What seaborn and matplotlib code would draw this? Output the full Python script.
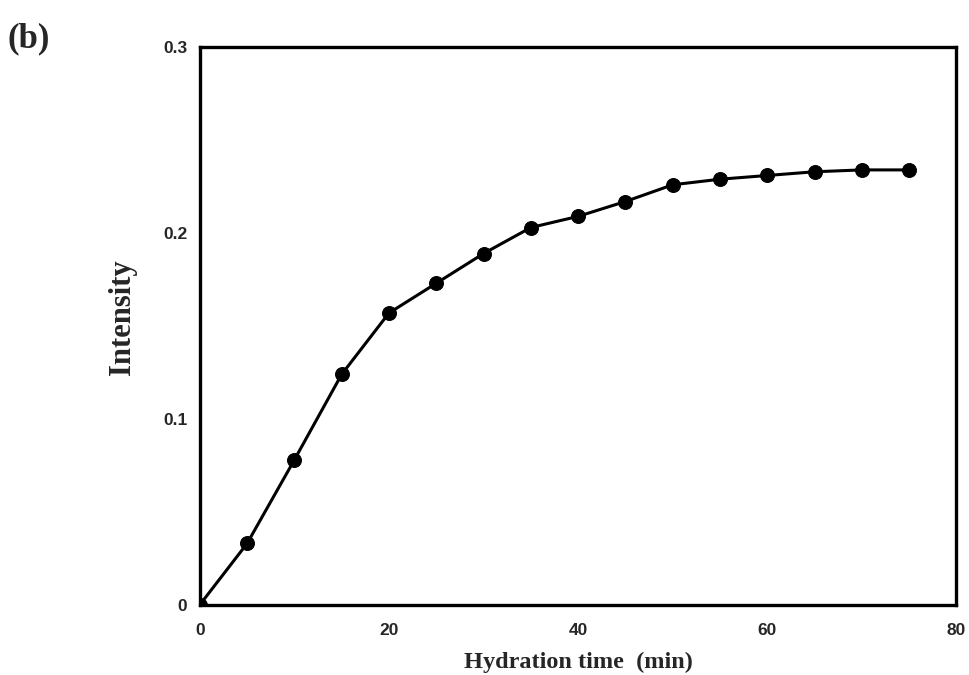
import matplotlib
matplotlib.use("Agg")
import matplotlib.pyplot as plt
import seaborn as sns
import pandas as pd

time_min = [0, 5, 10, 15, 20, 25, 30, 35, 40, 45, 50, 55, 60, 65, 70, 75]
intensity = [0.0, 0.033, 0.078, 0.124, 0.157, 0.173, 0.189, 0.203, 0.209, 0.217,
             0.226, 0.229, 0.231, 0.233, 0.234, 0.234]
x_ticklabels = ["0", "20", "40", "60", "80"]
y_ticklabels = ["0", "0.1", "0.2", "0.3"]

sns.set_style("white")
df = pd.DataFrame({"t": time_min, "I": intensity})

fig = plt.figure(figsize=(9.7, 6.75), dpi=100)
ax = fig.add_axes([0.206, 0.104, 0.780, 0.826])
sns.lineplot(data=df, x="t", y="I", ax=ax, color="black", linewidth=2.2,
             marker="o", markersize=10, markeredgecolor="black",
             markerfacecolor="black")
ax.set_xlim(0, 80)
ax.set_ylim(0, 0.3)
ax.set_xticks(range(0, 81, 10))
ax.set_xticklabels([x_ticklabels[i // 2] if i % 2 == 0 else "" for i in range(9)])
ax.set_yticks([0, 0.1, 0.2, 0.3])
ax.set_yticklabels(y_ticklabels)
for s in ax.spines.values():
    s.set_linewidth(2.4)
    s.set_color("black")
ax.tick_params(axis="both", direction="in", length=8, width=1.8, labelsize=12.5)
ax.tick_params(axis="x", pad=13)
ax.tick_params(axis="y", pad=9)
for lab in ax.get_xticklabels() + ax.get_yticklabels():
    lab.set_fontweight("bold")
    lab.set_family("Liberation Sans")
ax.set_xlabel("Hydration time  (min)", fontsize=17.5, fontweight="bold",
              family="Liberation Serif", labelpad=10)
ax.set_ylabel("Intensity", fontsize=22, fontweight="bold",
              family="Liberation Serif")
ax.yaxis.set_label_coords(-0.083, 0.516)
fig.text(0.008, 0.93, "(b)", fontsize=25, fontweight="bold",
         family="Liberation Serif")
fig.savefig("out.png", dpi=100)
